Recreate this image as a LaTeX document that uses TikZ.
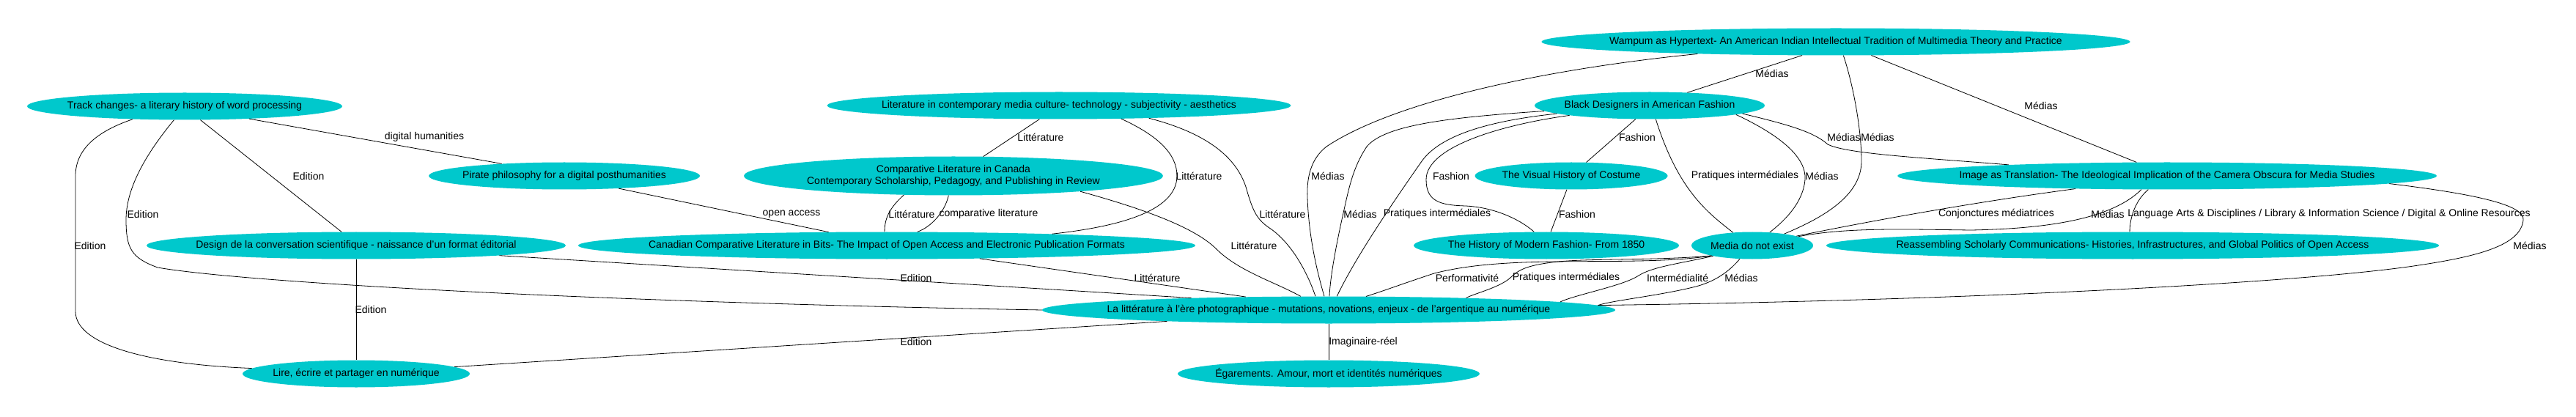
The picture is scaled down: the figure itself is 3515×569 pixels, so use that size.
\documentclass[tikz,border=0pt]{standalone}
\usepackage{fontspec}
\setmainfont{Liberation Sans}
\usetikzlibrary{shapes.geometric}
\definecolor{nodecyan}{RGB}{0,200,204}
\begin{document}
\begin{tikzpicture}[x=1pt,y=-1pt,
  pub/.style={ellipse, fill=nodecyan, inner xsep=-40pt, inner ysep=0pt, minimum height=37pt, align=center, font=\fontsize{14}{16.5}\selectfont},
  lbl/.style={inner sep=0pt, font=\fontsize{14}{16.5}\selectfont},
  edge/.style={draw=black, line width=0.8pt}]
\useasboundingbox[fill=white] (0,0) rectangle (3515,569);
% nodes
\node[pub, minimum width=803pt] (wampum) at (2505,57) {Wampum as Hypertext- An American Indian Intellectual Tradition of Multimedia Theory and Practice};
\node[pub, minimum width=430pt] (track) at (252,145) {Track changes- a literary history of word processing};
\node[pub, minimum width=633pt] (litcont) at (1445,144) {Literature in contemporary media culture- technology - subjectivity - aesthetics};
\node[pub, minimum width=314pt] (black) at (2251,144) {Black Designers in American Fashion};
\node[pub, minimum width=572pt, minimum height=53pt] (complit) at (1301,240) {Comparative Literature in Canada\\Contemporary Scholarship, Pedagogy, and Publishing in Review};
\node[pub, minimum width=370pt] (pirate) at (770,240) {Pirate philosophy for a digital posthumanities};
\node[pub, minimum width=263pt] (visual) at (2144,240) {The Visual History of Costume};
\node[pub, minimum width=736pt] (image) at (2957,240) {Image as Translation- The Ideological Implication of the Camera Obscura for Media Studies};
\node[pub, minimum width=572pt] (design) at (486,335) {Design de la conversation scientifique - naissance d'un format éditorial};
\node[pub, minimum width=842pt] (bits) at (1210,335) {Canadian Comparative Literature in Bits- The Impact of Open Access and Electronic Publication Formats};
\node[pub, minimum width=362pt] (modern) at (2110,335) {The History of Modern Fashion- From 1850};
\node[pub, minimum width=166pt] (media) at (2391,335) {Media do not exist};
\node[pub, minimum width=836pt] (reass) at (2910,335) {Reassembling Scholarly Communications- Histories, Infrastructures, and Global Politics of Open Access};
\node[pub, minimum width=782pt] (lalit) at (1813,423) {La littérature à l'ère photographique - mutations, novations, enjeux - de l'argentique au numérique};
\node[pub, minimum width=310pt] (lire) at (486,510) {Lire, écrire et partager en numérique};
\node[pub, minimum width=412pt] (egar) at (1813,510) {Égarements. Amour, mort et identités numériques};
% edges
\draw[edge] (track.-11.4) -- (pirate.169);
\draw[edge] (track.-41.2) -- (design.137.3);
\draw[edge] (track.-128.3) .. controls (195,215) and (172,260) .. (172,300) .. controls (172,340) and (180,352) .. (215,365) .. controls (330,385) and (800,412) .. (lalit.west);
\draw[edge] (track.-166) .. controls (130,180) and (103,205) .. (103,240) -- (103,425) .. controls (103,470) and (200,497) .. (lire.177.3);
\draw[edge] (design.south) -- (lire.north);
\draw[edge] (design.-4) -- (lalit.175.9);
\draw[edge] (lire.4.3) -- (lalit.184.1);
\draw[edge] (pirate.-13.1) -- (bits.167);
\draw[edge] (litcont.-145.7) -- (complit.33.9);
\draw[edge] (litcont.-12.9) .. controls (1580,185) and (1606,210) .. (1606,240) .. controls (1606,290) and (1520,310) .. (bits.4.1);
\draw[edge] (litcont.-8.2) .. controls (1640,180) and (1685,210) .. (1700,255) .. controls (1710,290) and (1715,300) .. (1735,313) .. controls (1765,335) and (1785,375) .. (lalit.134.2);
\draw[edge] (complit.-159.6) .. controls (1212,285) and (1207,300) .. (bits.99.2);
\draw[edge] (complit.-104.8) .. controls (1289,290) and (1270,310) .. (bits.24.2);
\draw[edge] (complit.-7.3) .. controls (1560,285) and (1630,310) .. (1660,340) .. controls (1690,370) and (1740,385) .. (lalit.154.7);
\draw[edge] (bits.-8.7) -- (lalit.171.3);
\draw[edge] (wampum.-158.6) -- (black.19.3);
\draw[edge] (wampum.-175.9) .. controls (2100,95) and (1900,140) .. (1810,200) .. controls (1787,218) and (1783,245) .. (1784,270) .. controls (1786,330) and (1800,380) .. (lalit.108);
\draw[edge] (wampum.-61.6) .. controls (2530,120) and (2540,180) .. (2540,220) .. controls (2540,270) and (2480,300) .. (media.20.2);
\draw[edge] (wampum.-21.4) -- (image.156.3);
\draw[edge] (black.-136) -- (visual.42.5);
\draw[edge] (black.-173.4) .. controls (2050,170) and (1946,200) .. (1946,245) .. controls (1946,275) and (1965,280) .. (2000,281) .. controls (2040,283) and (2075,300) .. (modern.132.7);
\draw[edge] (black.-66.6) .. controls (2290,260) and (2330,290) .. (media.146);
\draw[edge] (black.-6.4) .. controls (2430,185) and (2465,215) .. (2463,245) .. controls (2460,280) and (2430,305) .. (media.37.7);
\draw[edge] (black.-5.3) .. controls (2440,170) and (2475,180) .. (2494,197) .. controls (2520,210) and (2620,215) .. (image.176.7);
\draw[edge] (black.-177.5) .. controls (1980,160) and (1890,170) .. (1865,200) .. controls (1845,230) and (1840,260) .. (1832,295) .. controls (1822,340) and (1815,380) .. (lalit.87);
\draw[edge] (black.-175.4) .. controls (2030,165) and (1965,185) .. (1940,220) .. controls (1905,270) and (1850,350) .. (lalit.59.2);
\draw[edge] (visual.-108) -- (modern.72);
\draw[edge] (media.-166.8) .. controls (2280,358) and (2200,356) .. (2118,357) .. controls (2050,358) and (2000,362) .. (1957,373) .. controls (1920,385) and (1885,398) .. (lalit.20.5);
\draw[edge] (media.-166) .. controls (2260,356) and (2160,352) .. (2118,358) .. controls (2085,362) and (2072,368) .. (2062,378) .. controls (2048,392) and (2010,401) .. (lalit.5.85);
\draw[edge] (media.-165.5) .. controls (2290,360) and (2255,364) .. (2236,376) .. controls (2215,390) and (2150,402) .. (lalit.2.8);
\draw[edge] (media.-133.2) .. controls (2360,370) and (2340,385) .. (2310,392) .. controls (2260,404) and (2200,410) .. (lalit.1.47);
\draw[edge] (media.12.3) .. controls (2560,300) and (2700,275) .. (image.-172.1);
\draw[edge] (media.11) .. controls (2520,310) and (2600,313) .. (2690,314) .. controls (2790,312) and (2880,300) .. (image.-152.4);
\draw[edge] (image.-144.7) .. controls (2912,275) and (2906,300) .. (reass.102.2);
\draw[edge] (image.-2.3) .. controls (3380,265) and (3445,280) .. (3443,300) .. controls (3440,335) and (3380,350) .. (3300,362) .. controls (3150,385) and (2700,410) .. (lalit.1.4);
\draw[edge] (lalit.south) -- (egar.north);
% labels
\node[lbl] (l1) at (579,187) {digital humanities};
\node[lbl] (l2) at (421,240) {Edition};
\node[lbl] (l3) at (195,292) {Edition};
\node[lbl] (l4) at (123,335) {Edition};
\node[lbl] (l5) at (506,422) {Edition};
\node[lbl] (l6) at (1250,379) {Edition};
\node[lbl] (l7) at (1250,466) {Edition};
\node[lbl] (l8) at (1080,292) {open access};
\node[lbl] (l9) at (1420,187) {Littérature};
\node[lbl] (l10) at (1636,240) {Littérature};
\node[lbl] (l11) at (1750,292) {Littérature};
\node[lbl] (l12) at (1244,292) {Littérature};
\node[lbl] (l13) at (1349,292) {comparative literature};
\node[lbl] (l14) at (1711,335) {Littérature};
\node[lbl] (l15) at (1579,379) {Littérature};
\node[lbl] (l16) at (2418,100) {Médias};
\node[lbl] (l17) at (1812,240) {Médias};
\node[lbl] (l18) at (2562,187) {Médias};
\node[lbl] (l19) at (2785,144) {Médias};
\node[lbl] (l20) at (2234,187) {Fashion};
\node[lbl] (l21) at (1980,240) {Fashion};
\node[lbl] (l22) at (2381,240) {Pratiques intermédiales};
\node[lbl] (l23) at (2486,240) {Médias};
\node[lbl] (l24) at (2516,187) {Médias};
\node[lbl] (l25) at (1856,292) {Médias};
\node[lbl] (l26) at (1961,292) {Pratiques intermédiales};
\node[lbl] (l27) at (2152,292) {Fashion};
\node[lbl] (l28) at (2002,379) {Performativité};
\node[lbl] (l29) at (2137,379) {Pratiques intermédiales};
\node[lbl] (l30) at (2289,379) {Intermédialité};
\node[lbl] (l31) at (2376,379) {Médias};
\node[lbl] (l32) at (2724,292) {Conjonctures médiatrices};
\node[lbl] (l33) at (2876,292) {Médias};
\node[lbl] (l34) at (3178,292) {Language Arts \& Disciplines / Library \& Information Science / Digital \& Online Resources};
\node[lbl] (l35) at (3452,335) {Médias};
\node[lbl] (l36) at (1860,467) {Imaginaire-réel};
\end{tikzpicture}
\end{document}
